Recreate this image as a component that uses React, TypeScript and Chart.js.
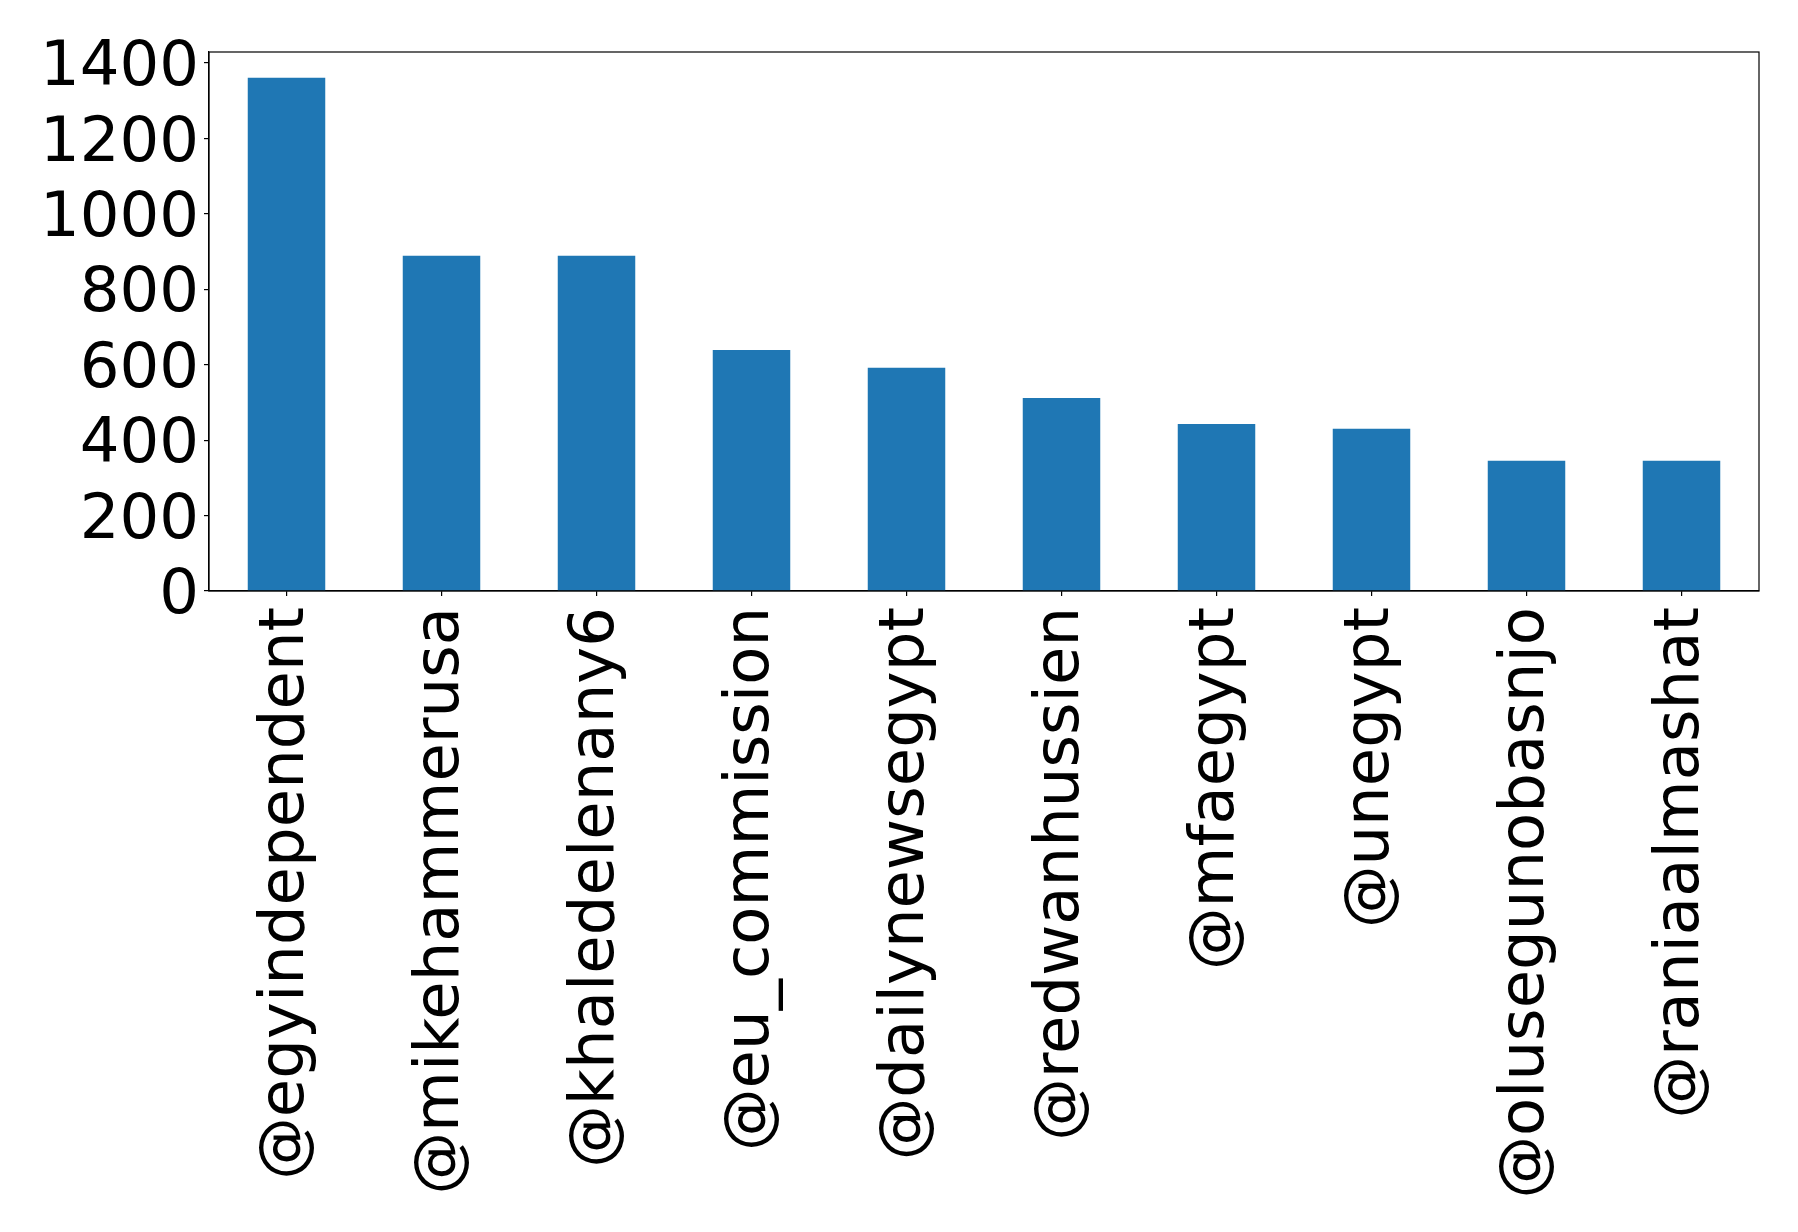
import React, { useEffect, useRef } from "react";
import { Chart, registerables } from "chart.js";

Chart.register(...registerables);

const categories = [
  "@egyindependent",
  "@mikehammerusa",
  "@khaledelenany6",
  "@eu_commission",
  "@dailynewsegypt",
  "@redwanhussien",
  "@mfaegypt",
  "@unegypt",
  "@olusegunobasnjo",
  "@raniaalmashat",
];
const counts = [1361, 889, 889, 639, 592, 512, 443, 430, 345, 345];
const yTicks = [0, 200, 400, 600, 800, 1000, 1200, 1400];

const W = 1798;
const H = 1232;
const FONT = { family: "'DejaVu Sans', sans-serif", size: 62.5 };

const framePlugin = {
  id: "frame",
  afterDraw(chart: any) {
    const { ctx, chartArea } = chart;
    ctx.save();
    ctx.strokeStyle = "#000";
    ctx.lineWidth = 1.2;
    ctx.strokeRect(chartArea.left, chartArea.top, chartArea.right - chartArea.left, chartArea.bottom - chartArea.top);
    ctx.restore();
  },
};

export default function App() {
  const ref = useRef<HTMLCanvasElement | null>(null);
  useEffect(() => {
    document.body.style.margin = "0";
    const c = ref.current!;
    const chart = new Chart(c, {
      type: "bar",
      data: {
        labels: categories,
        datasets: [
          {
            data: counts,
            backgroundColor: "#1f77b4",
            barPercentage: 0.5,
            categoryPercentage: 1,
          },
        ],
      },
      plugins: [framePlugin],
      options: {
        animation: false,
        responsive: false,
        devicePixelRatio: 1,
        layout: { padding: { top: 52, right: 39, left: 0, bottom: 0 } },
        plugins: { legend: { display: false }, tooltip: { enabled: false } },
        scales: {
          x: {
            grid: { display: true, offset: false, drawOnChartArea: false, drawTicks: true, tickLength: 5, color: "#000", lineWidth: 1.2 },
            border: { display: true, color: "#000", width: 1.2 },
            ticks: {
              autoSkip: false,
              minRotation: 90,
              maxRotation: 90,
              padding: 11,
              color: "#000",
              font: FONT,
            },
            afterFit(scale: any) {
              scale.height = H - 591;
            },
          },
          y: {
            min: 0,
            max: 1429,
            grid: { display: true, drawOnChartArea: false, drawTicks: true, tickLength: 5, color: "#000", lineWidth: 1.2 },
            border: { display: true, color: "#000", width: 1.2 },
            ticks: {
              autoSkip: false,
              stepSize: 200,
              includeBounds: false,
              padding: 5,
              labelOffset: 6,
              color: "#000",
              font: FONT,
              callback: (v: any) => String(v),
            },
            afterBuildTicks(scale: any) {
              scale.ticks = yTicks.map((v) => ({ value: v }));
            },
            afterFit(scale: any) {
              scale.width = 209;
            },
          },
        },
      },
    });
    return () => chart.destroy();
  }, []);
  return (
    <div style={{ position: "absolute", left: 0, top: 0, width: W, height: H, background: "#fff" }}>
      <canvas ref={ref} width={W} height={H} style={{ width: W, height: H, display: "block" }} />
    </div>
  );
}
